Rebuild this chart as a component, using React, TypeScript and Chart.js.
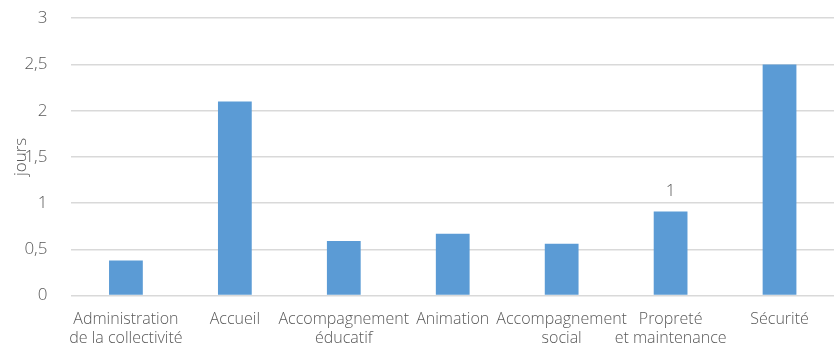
import React, { useEffect, useRef } from "react";
import { Chart, registerables } from "chart.js";

Chart.register(...registerables);

const categories: string[][] = [
  ["Administration", "de la collectivité"],
  ["Accueil"],
  ["Accompagnement", "éducatif"],
  ["Animation"],
  ["Accompagnement", "social"],
  ["Propreté", "et maintenance"],
  ["Sécurité"],
];
const days: number[] = [0.38, 2.1, 0.59, 0.67, 0.56, 0.91, 2.5];
const labelledBars: number[] = [5];
const yTicks: number[] = [0, 0.5, 1, 1.5, 2, 2.5, 3];

const FONT = "'Open Sans', 'Liberation Sans', sans-serif";
const TEXT = "#595959";

const valueLabels = {
  id: "valueLabels",
  afterDatasetsDraw(chart: any) {
    const meta = chart.getDatasetMeta(0);
    const ctx = chart.ctx;
    ctx.save();
    ctx.fillStyle = TEXT;
    ctx.font = `300 17px ${FONT}`;
    ctx.textAlign = "center";
    ctx.textBaseline = "bottom";
    labelledBars.forEach((i) => {
      const bar = meta.data[i];
      ctx.fillText(String(Math.round(days[i])), bar.x, bar.y - 12);
    });
    ctx.restore();
  },
};

export default function App() {
  const ref = useRef<HTMLCanvasElement | null>(null);
  useEffect(() => {
    if (!ref.current) return;
    const chart = new Chart(ref.current, {
      type: "bar",
      data: {
        labels: categories,
        datasets: [
          {
            data: days,
            backgroundColor: "#5B9BD5",
            barPercentage: 0.31,
            categoryPercentage: 1,
          },
        ],
      },
      options: {
        animation: false,
        responsive: true,
        maintainAspectRatio: false,
        layout: { padding: { top: 0, right: 0, left: 11, bottom: -7 } },
        plugins: { legend: { display: false }, tooltip: { enabled: false } },
        scales: {
          x: {
            grid: { display: false },
            border: { display: false },
            ticks: {
              color: TEXT,
              font: { family: FONT, size: 16, weight: "300" as any, lineHeight: 1.2 },
              maxRotation: 0,
              autoSkip: false,
              padding: 6,
            },
          },
          y: {
            min: 0,
            max: 3,
            afterBuildTicks(axis: any) {
              axis.ticks = yTicks.map((v) => ({ value: v }));
            },
            grid: {
              color: "#d9d9d9",
              lineWidth: 1.5,
              drawTicks: true,
              tickLength: 16,
              tickColor: "rgba(0,0,0,0)",
            },
            border: { display: false },
            ticks: {
              color: TEXT,
              padding: 8,
              font: { family: FONT, size: 17, weight: "300" as any },
              callback: (v: any) => String(v).replace(".", ","),
            },
            title: {
              display: true,
              text: "jours",
              color: TEXT,
              padding: { top: 0, bottom: -15 },
              font: { family: FONT, size: 17, weight: "300" as any },
            },
          },
        },
      },
      plugins: [valueLabels],
    });
    return () => chart.destroy();
  }, []);
  return (
    <div style={{ position: "fixed", left: 0, top: 0, width: 834, height: 347, background: "#fff" }}>
      <canvas ref={ref} />
    </div>
  );
}
